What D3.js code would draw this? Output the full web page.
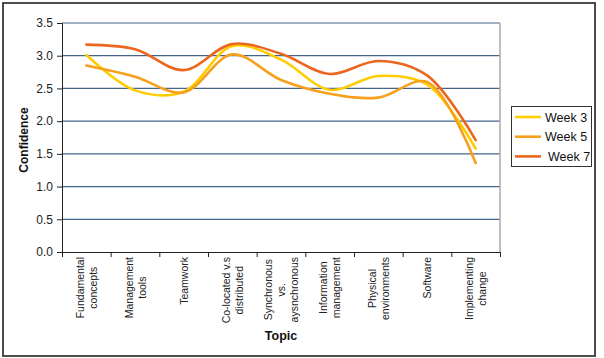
<!DOCTYPE html>
<html>
<head>
<meta charset="utf-8">
<script src="https://cdn.jsdelivr.net/npm/d3@7"></script>
<style>
body { margin: 0; background: #fff; }
svg { display: block; font-family: "Liberation Sans", Arial, sans-serif; }
</style>
</head>
<body>
<svg id="chart" width="604" height="358"></svg>
<script>
// topics, one array of lines per label
var topics = [
    ["Fundamental", "concepts"],
    ["Management", "tools"],
    ["Teamwork"],
    ["Co-located v.s", "distributed"],
    ["Synchronous", "vs.", "aysnchronous"],
    ["Information", "management"],
    ["Physical", "environments"],
    ["Software"],
    ["Implementing", "change"]
];

var week3 = [3.01, 2.47, 2.45, 3.15, 2.94, 2.48, 2.69, 2.56, 1.58];
var week5 = [2.85, 2.68, 2.44, 3.02, 2.63, 2.42, 2.36, 2.60, 1.36];
var week7 = [3.17, 3.10, 2.78, 3.18, 3.03, 2.72, 2.92, 2.70, 1.71];

var seriesNames = ["Week 3", "Week 5", "Week 7"];
var yTicks = [0, 0.5, 1, 1.5, 2, 2.5, 3, 3.5];

var colors = ["#FFCC00", "#F7A01C", "#EB671D"];

var svg = d3.select("#chart");

// outer frame
svg.append("rect")
    .attr("x", 3).attr("y", 3)
    .attr("width", 592).attr("height", 353)
    .attr("fill", "none")
    .attr("stroke", "#3a3a3a")
    .attr("stroke-width", 1.8);

var plotLeft = 62, plotRight = 500, plotTop = 23, plotBottom = 252;

var xScale = d3.scaleBand()
    .domain(d3.range(topics.length))
    .range([plotLeft, plotRight]);

var yScale = d3.scaleLinear()
    .domain([0, 3.5])
    .range([plotBottom, plotTop]);

// gridlines
svg.append("g")
    .selectAll("line")
    .data(yTicks.filter(function(d){ return d > 0; }))
    .enter()
    .append("line")
    .attr("x1", plotLeft).attr("x2", plotRight)
    .attr("y1", function(d){ return yScale(d); })
    .attr("y2", function(d){ return yScale(d); })
    .attr("stroke", "#46658a")
    .attr("stroke-width", 1.2);

// right border of plot area
svg.append("line")
    .attr("x1", plotRight).attr("x2", plotRight)
    .attr("y1", plotTop).attr("y2", plotBottom)
    .attr("stroke", "#a8a8a8")
    .attr("stroke-width", 1.5);

//Axis
var yAxis = d3.axisLeft(yScale)
    .tickValues(yTicks)
    .tickFormat(d3.format(".1f"))
    .tickSize(5)
    .tickPadding(4);

var gy = svg.append("g")
    .attr("transform", "translate(" + plotLeft + ",0)")
    .call(yAxis);
gy.select(".domain").attr("stroke", "#222");
gy.selectAll(".tick line").attr("stroke", "#222");
gy.selectAll("text")
    .attr("font-size", "12px")
    .attr("font-family", "Liberation Sans, Arial, sans-serif")
    .attr("fill", "#222");

var tickScale = d3.scaleLinear()
    .domain([0, topics.length])
    .range([plotLeft, plotRight]);

var xAxis = d3.axisBottom(tickScale)
    .tickValues(d3.range(topics.length + 1))
    .tickFormat("")
    .tickSizeInner(5)
    .tickSizeOuter(0);

var gx = svg.append("g")
    .attr("transform", "translate(0," + plotBottom + ")")
    .call(xAxis);
gx.select(".domain").attr("stroke", "#222");
gx.selectAll(".tick line").attr("stroke", "#222");

// x category labels, rotated
var labelTop = 257;
var lineGap = 13;
topics.forEach(function(lines, i) {
    var cx = xScale(i) + xScale.bandwidth() / 2;
    var g = svg.append("g")
        .attr("transform", "translate(" + cx + "," + labelTop + ") rotate(-90)");
    var texts = g.selectAll("text")
        .data(lines)
        .enter()
        .append("text")
        .attr("font-size", "10.5px")
        .attr("fill", "#222")
        .attr("text-anchor", "middle")
        .attr("y", function(d, k){ return 4 + (k - (lines.length - 1) / 2) * lineGap; })
        .text(function(d){ return d; });
    var maxW = 0;
    texts.each(function(){ maxW = Math.max(maxW, this.getComputedTextLength()); });
    texts.attr("x", -maxW / 2);
});

// lines
var line = d3.line()
    .x(function(d, i){ return xScale(i) + xScale.bandwidth() / 2; })
    .y(function(d){ return yScale(d); })
    .curve(d3.curveCatmullRom.alpha(0.5));

var allSeries = [week3, week5, week7];
svg.append("g")
    .selectAll("path")
    .data(allSeries)
    .enter()
    .append("path")
    .attr("d", line)
    .attr("fill", "none")
    .attr("stroke", function(d, i){ return colors[i]; })
    .attr("stroke-width", 2.6)
    .attr("stroke-linecap", "round");

// axis titles
svg.append("text")
    .attr("transform", "translate(28,140) rotate(-90)")
    .attr("text-anchor", "middle")
    .attr("font-size", "12px")
    .attr("font-weight", "bold")
    .attr("fill", "#111")
    .text("Confidence");

svg.append("text")
    .attr("x", 281).attr("y", 340)
    .attr("text-anchor", "middle")
    .attr("font-size", "12.5px")
    .attr("font-weight", "bold")
    .attr("fill", "#111")
    .text("Topic");

// legend
var legend = svg.append("g");
legend.append("rect")
    .attr("x", 511.5).attr("y", 106.5)
    .attr("width", 80).attr("height", 60)
    .attr("fill", "#fff")
    .attr("stroke", "#333")
    .attr("stroke-width", 1);

var items = legend.selectAll(".item")
    .data(seriesNames)
    .enter()
    .append("g")
    .attr("class", "item")
    .attr("transform", function(d, i){ return "translate(0," + (117 + i * 19.7) + ")"; });

items.append("line")
    .attr("x1", 515).attr("x2", 541)
    .attr("stroke", function(d, i){ return colors[i]; })
    .attr("stroke-width", 2.6);

items.append("text")
    .attr("x", function(d, i){ return i == 2 ? 548 : 545; })
    .attr("y", 4.5)
    .attr("font-size", "12.5px")
    .attr("fill", "#111")
    .text(function(d){ return d; });
</script>
</body>
</html>
